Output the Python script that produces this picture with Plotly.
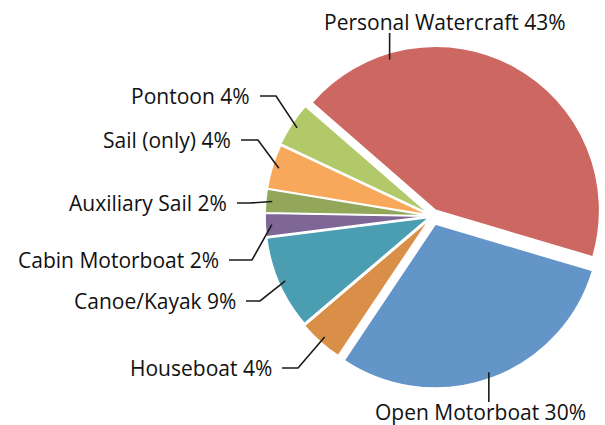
import math
import plotly.graph_objects as go

W, H = 605, 425

# slice data, clockwise from the top-left
labels = ["Personal Watercraft", "Open Motorboat", "Houseboat", "Canoe/Kayak",
          "Cabin Motorboat", "Auxiliary Sail", "Sail (only)", "Pontoon"]
shares = [43.2, 29.8, 4.4, 9.2, 2.3, 2.3, 4.4, 4.4]
colors = ["#CD6761", "#6495C9", "#D98F48", "#4B9DB1",
          "#7E6796", "#92A75A", "#F8A85A", "#B1C968"]
pulls = [0.04, 0.052, 0.028, 0.021, 0.021, 0.021, 0.021, 0.025]

# pie geometry (pixels)
CX, CY, R = 432.5, 216, 164
ROTATION = -49

# label placement (pixels): text anchor x, y, xanchor, elbow x (None = vertical leader)
label_pos = {
    "Personal Watercraft": (445, 22, "center", None),
    "Open Motorboat": (480, 412, "center", None),
    "Houseboat": (274, 368, "right", 298),
    "Canoe/Kayak": (238, 301, "right", 260),
    "Cabin Motorboat": (221, 260, "right", 252),
    "Auxiliary Sail": (229, 203, "right", 250),
    "Sail (only)": (233, 140, "right", 258),
    "Pontoon": (252, 96, "right", 276),
}
# leader end on the slice, where it is not the mid angle
attach_angle = {"Personal Watercraft": -17}

FONT = "'Open Sans', sans-serif"


def px(x, y):
    return x / W, 1 - y / H


half = R * (1 + max(pulls))
dom_x = [max((CX - half) / W, 0), min((CX + half) / W, 1)]
dom_y = [1 - (CY + half) / H, 1 - (CY - half) / H]

fig = go.Figure(go.Pie(
    labels=labels, values=shares, sort=False, direction="clockwise",
    rotation=ROTATION, pull=pulls, textinfo="none", hoverinfo="label+percent",
    marker=dict(colors=colors, line=dict(color="white", width=1.5)),
    domain=dict(x=dom_x, y=dom_y), showlegend=False,
))

total = sum(shares)
start = ROTATION
shapes, annotations = [], []
for lab, val, pull in zip(labels, shares, pulls):
    span = val / total * 360
    mid = start + span / 2
    start += span
    cx = CX + pull * R * math.sin(math.radians(mid))
    cy = CY - pull * R * math.cos(math.radians(mid))
    ang = math.radians(attach_angle.get(lab, mid))
    ax = cx + 0.96 * R * math.sin(ang)
    ay = cy - 0.96 * R * math.cos(ang)

    tx, ty, anchor, elbow = label_pos[lab]
    if elbow is None:
        # vertical leader above / below the slice
        ey = ty + 11 if ty < CY else ty - 10
        pts = [(ax, ay), (ax, ey)]
    else:
        pts = [(ax, ay), (elbow, ty), (tx + 8, ty)]
    path = "M " + " L ".join("%.4f,%.4f" % px(x, y) for x, y in pts)
    shapes.append(dict(type="path", path=path, xref="paper", yref="paper",
                       line=dict(color="#1a1a1a", width=1.6)))

    x, y = px(tx, ty)
    annotations.append(dict(
        x=x, y=y, xref="paper", yref="paper", xanchor=anchor, yanchor="middle",
        text=f"{lab} {round(val)}%", showarrow=False,
        font=dict(family=FONT, size=21, color="#111111"),
    ))

fig.update_layout(
    width=W, height=H,
    margin=dict(l=0, r=0, t=0, b=0),
    paper_bgcolor="white",
    shapes=shapes, annotations=annotations,
)

# drop the browser's default body margin so the figure fills the window
fig.write_html("out.html", config={"displayModeBar": False},
               post_script="document.body.style.margin='0';")
